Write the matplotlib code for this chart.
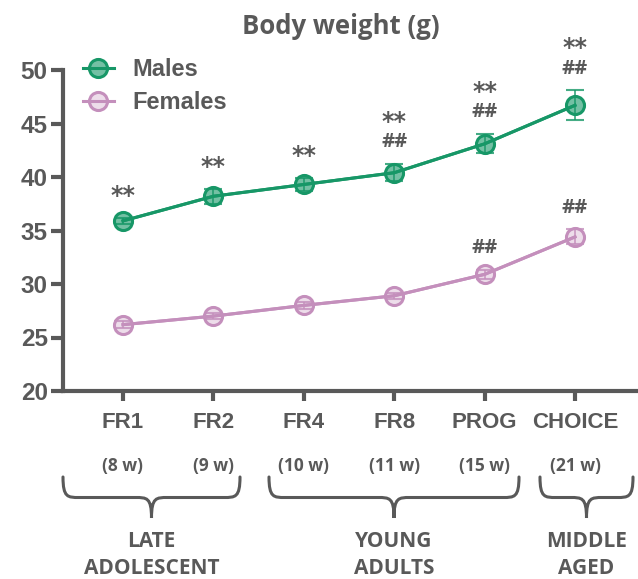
import matplotlib
matplotlib.use("Agg")
import matplotlib.pyplot as plt
from matplotlib.path import Path
from matplotlib.patches import PathPatch
from matplotlib.colors import to_rgba

# ---- data ----
stages = ["FR1", "FR2", "FR4", "FR8", "PROG", "CHOICE"]
ages = ["(8 w)", "(9 w)", "(10 w)", "(11 w)", "(15 w)", "(21 w)"]
males_mean = [35.9, 38.2, 39.3, 40.4, 43.1, 46.7]
males_sem = [0.3, 0.7, 0.6, 0.8, 0.9, 1.4]
females_mean = [26.2, 27.0, 28.0, 28.9, 30.9, 34.4]
females_sem = [0.3, 0.3, 0.3, 0.3, 0.4, 0.7]
males_marks = [["**"], ["**"], ["**"], ["##", "**"], ["##", "**"], ["##", "**"]]
females_marks = [[], [], [], [], ["##"], ["##"]]
groups = ["LATE\nADOLESCENT", "YOUNG\nADULTS", "MIDDLE\nAGED"]

W, H = 638, 579
GRAY = "#595959"
GREEN = "#179767"
PINK = "#c48fbc"
TICKFONT = "Liberation Sans"
LABELFONT = "Open Sans"
STARFONT = "DejaVu Sans"

fig = plt.figure(figsize=(W / 100, H / 100), dpi=100)


def fx(x):
    return x / W


def fy(y):
    return 1 - y / H


# axes box in pixel terms
left, right, top, bottom = 63, 638, 70, 391
ax = fig.add_axes([fx(left), fy(bottom), fx(right - left), (bottom - top) / H])

x = list(range(len(stages)))
step = 90.4
ax.set_xlim(-(123 - left) / step, (right - 123) / step)
ax.set_ylim(20, 50)

for mean, sem, col, alpha, lab in [
    (males_mean, males_sem, GREEN, 0.6, "Males"),
    (females_mean, females_sem, PINK, 0.3, "Females"),
]:
    ax.plot(x, mean, color=col, lw=2.2, zorder=2)
    ax.errorbar(x, mean, yerr=sem, fmt="none", ecolor=col, elinewidth=1.3,
                capsize=6.5, capthick=1.5, zorder=3, alpha=0.8)
    ax.plot(x, mean, ls="-", lw=2.2, color=col, marker="o", ms=13,
            mfc=to_rgba(col, alpha), mec=col, mew=2.2, zorder=4, label=lab)

# significance marks above each point
for mean, sem, marks in [(males_mean, males_sem, males_marks),
                         (females_mean, females_sem, females_marks)]:
    for i, m in enumerate(marks):
        for k, s in enumerate(m):
            off = 9 + 18.5 * k
            if s == "**":
                ax.annotate(s, (i, mean[i] + sem[i]), xytext=(0, off - (2 if k == 0 else 5.5)),
                            textcoords="offset points", ha="center", va="bottom",
                            fontsize=17, fontweight="bold", color=GRAY, family=STARFONT)
            else:
                ax.annotate(s, (i, mean[i] + sem[i]), xytext=(0, off - 0.5),
                            textcoords="offset points", ha="center", va="bottom",
                            fontsize=14.5, fontweight="bold", color=GRAY, family=LABELFONT)

for sp in ["top", "right"]:
    ax.spines[sp].set_visible(False)
for sp in ["left", "bottom"]:
    ax.spines[sp].set_linewidth(3)
    ax.spines[sp].set_color(GRAY)

ax.set_yticks([20, 25, 30, 35, 40, 45, 50])
ax.tick_params(axis="y", length=9, width=3, color=GRAY, pad=2)
ax.set_xticks(x)
ax.set_xticklabels(stages)
ax.tick_params(axis="x", length=7, width=3, color=GRAY, pad=8)
for t in ax.get_yticklabels():
    t.set_fontsize(17.5)
for t in ax.get_xticklabels():
    t.set_fontsize(16)
for t in ax.get_yticklabels() + ax.get_xticklabels():
    t.set_fontfamily(TICKFONT)
    t.set_fontweight("bold")
    t.set_color(GRAY)

leg = ax.legend(loc="upper left", bbox_to_anchor=(fx(83), fy(58)),
                bbox_transform=fig.transFigure, frameon=False, handlelength=1.3,
                handletextpad=0.8, labelspacing=0.42, borderaxespad=0, borderpad=0,
                prop={"family": TICKFONT, "weight": "bold", "size": 17})
for t in leg.get_texts():
    t.set_color(GRAY)

fig.text(fx(341), fy(27), "Body weight (g)", ha="center", va="center", fontsize=18.5,
         fontweight="bold", color=GRAY, family=LABELFONT)

# ages beneath the stage labels
for i, a in enumerate(ages):
    xp = ax.transData.transform((i, 20))[0]
    fig.text(xp / W, fy(466), a, ha="center", va="center", fontsize=12.5,
             fontweight="bold", color=GRAY, family=LABELFONT)


def brace(x0, x1, y0, y1):
    xc = (x0 + x1) / 2
    ym = y0 + (y1 - y0) * 0.5
    r = 16
    pts = [
        (x0, y0), (x0, ym), (x0 + r * 0.3, ym), (x0 + r, ym),
        (xc - r, ym),
        (xc - r * 0.3, ym), (xc, ym), (xc, y1),
        (xc, ym), (xc + r * 0.3, ym), (xc + r, ym),
        (x1 - r, ym),
        (x1 - r * 0.3, ym), (x1, ym), (x1, y0),
    ]
    codes = [Path.MOVETO, Path.CURVE4, Path.CURVE4, Path.CURVE4, Path.LINETO,
             Path.CURVE4, Path.CURVE4, Path.CURVE4,
             Path.CURVE4, Path.CURVE4, Path.CURVE4, Path.LINETO,
             Path.CURVE4, Path.CURVE4, Path.CURVE4]
    verts = [(fx(a), fy(b)) for a, b in pts]
    fig.add_artist(PathPatch(Path(verts, codes), transform=fig.transFigure,
                             fill=False, ec=GRAY, lw=2.2, capstyle="round"))


braces = [(63, 240), (269, 519), (540, 633)]
for (b0, b1), g in zip(braces, groups):
    brace(b0, b1, 477, 518)
    fig.text(fx((b0 + b1) / 2), fy(555), g, ha="center", va="center", fontsize=15,
             fontweight="bold", color=GRAY, family=LABELFONT, linespacing=1.4)

fig.savefig("out.png", dpi=100)
